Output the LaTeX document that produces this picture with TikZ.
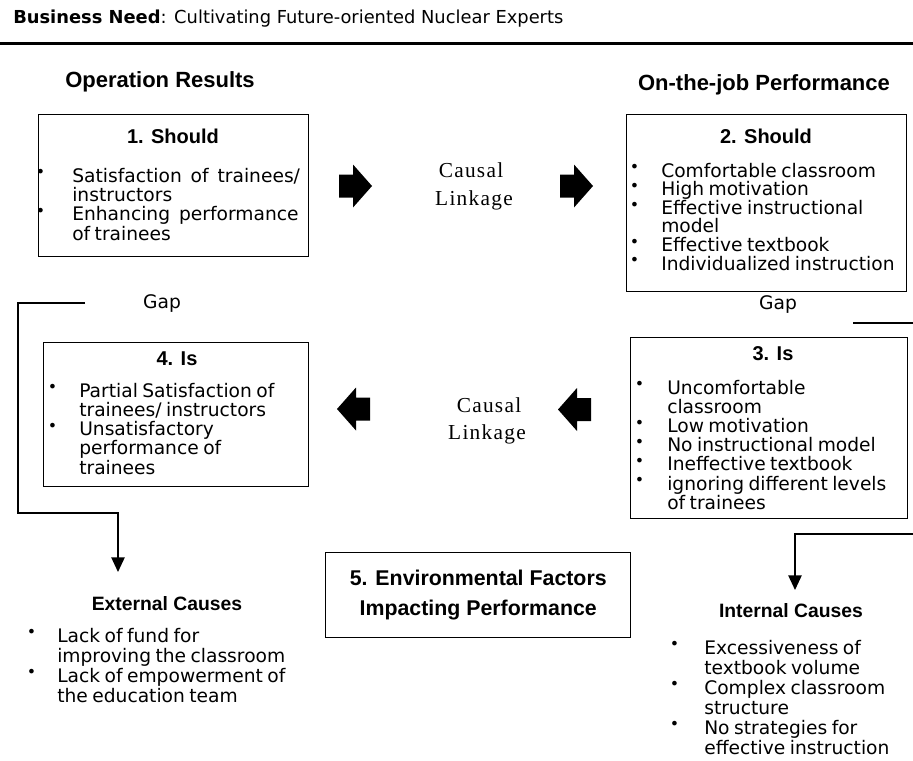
\documentclass[tikz,border=0pt]{standalone}
\usepackage{fontspec}
\setmainfont{DejaVu Sans}
\newfontfamily\headfont{Liberation Sans}
\newfontfamily\linkfont{Liberation Serif}[LetterSpace=6]
\usetikzlibrary{arrows.meta}

% bullet lists with a hanging indent
\newlength\bulletind
\newcommand\dotb{\raisebox{0.22em}{\scalebox{0.85}{\char"2022}}}
\newcommand\listsetup[2]{\fontsize{14pt}{#1}\selectfont\setlength\parskip{0pt}\setlength\bulletind{#2}}
\newcommand\bitem[1]{\hangindent=\bulletind\hangafter=1\noindent\makebox[\bulletind][l]{\kern-1pt\dotb}#1\par}

\tikzset{
  box/.style={draw, line width=1.1pt, inner sep=0pt, anchor=north west},
  head/.style={anchor=base, inner sep=0pt, font=\headfont\bfseries\fontsize{16.5}{18}\selectfont},
  boxtitle/.style={anchor=base, inner sep=0pt, font=\headfont\bfseries\fontsize{15}{17}\selectfont},
  causehead/.style={anchor=base, inner sep=0pt, font=\headfont\bfseries\fontsize{14.5}{17}\selectfont},
  link/.style={anchor=base, inner sep=0pt, font=\linkfont\fontsize{16}{18}\selectfont},
  gaplabel/.style={anchor=base, inner sep=0pt, font=\fontsize{14}{16}\selectfont},
  bullets/.style={anchor=base west, inner sep=0pt, text width=240pt},
  conn/.style={line width=1.1pt},
  tip/.style={-{Triangle[length=11pt,width=10pt]}},
  blockarrow/.pic={\fill[black] (-16.5,-11.5) -- (-2.5,-11.5) -- (-2.5,-21.5) -- (16.5,0)
     -- (-2.5,21.5) -- (-2.5,11.5) -- (-16.5,11.5) -- cycle;}
}

\begin{document}
\begin{tikzpicture}[x=0.75pt,y=-0.75pt]
\useasboundingbox (0,0) rectangle (913,760);

% heading and rule
\node[anchor=base west, inner sep=0pt, font=\fontsize{13.4}{15}\selectfont] (need) at (13,23)
  {\textbf{Business Need}: Cultivating Future-oriented Nuclear Experts};
\coordinate (rl) at (0,43);
\coordinate (rr) at (913,43);
\draw[line width=2.25pt] (rl) -- (rr);

\node[head] (opres) at (160,87) {Operation Results};
\node[head] (onjob) at (764,90) {On-the-job Performance};

% 1. Should
\node[box, minimum width=202.5pt, minimum height=106.5pt] (b1) at (38,114) {};
\node[boxtitle] (b1t) at (173,143) {1. Should};
\node[bullets] (b1l) at (37,182) {\listsetup{14.5pt}{26.25pt}%
  \bitem{Satisfaction\ \ of\ \ trainees/\newline instructors}%
  \bitem{Enhancing\ \ performance\newline of trainees}};

% 2. Should
\node[box, minimum width=210pt, minimum height=132.75pt] (b2) at (626,114) {};
\node[boxtitle] (b2t) at (766,143) {2. Should};
\node[bullets] (b2l) at (631,177) {\listsetup{13.95pt}{22.5pt}%
  \bitem{Comfortable classroom}%
  \bitem{High motivation}%
  \bitem{Effective instructional\newline model}%
  \bitem{Effective textbook}%
  \bitem{Individualized instruction}};

% 3. Is
\node[box, minimum width=207.75pt, minimum height=135.75pt] (b3) at (630,337) {};
\node[boxtitle] (b3t) at (773,360) {3. Is};
\node[bullets] (b3l) at (636,394) {\listsetup{14.4pt}{23.25pt}%
  \bitem{Uncomfortable\newline classroom}%
  \bitem{Low motivation}%
  \bitem{No instructional model}%
  \bitem{Ineffective textbook}%
  \bitem{ignoring different levels\newline of trainees}};

% 4. Is
\node[box, minimum width=198.75pt, minimum height=108pt] (b4) at (43,342) {};
\node[boxtitle] (b4t) at (177,365) {4. Is};
\node[bullets] (b4l) at (49,397) {\listsetup{14.45pt}{22.5pt}%
  \bitem{Partial Satisfaction of\newline trainees/ instructors}%
  \bitem{Unsatisfactory\newline performance of\newline trainees}};

% causal linkages
\pic at (355.5,186) {blockarrow};
\pic at (576.5,186) {blockarrow};
\pic[rotate=180] at (353.5,409) {blockarrow};
\pic[rotate=180] at (574.5,409.5) {blockarrow};
\node[link] (c1) at (471,177) {Causal};
\node[link] (l1) at (474,205) {Linkage};
\node[link] (c2) at (489,412) {Causal};
\node[link] (l2) at (487,439) {Linkage};

% gaps
\node[gaplabel] (gapl) at (162,308) {Gap};
\node[gaplabel] (gapr) at (778,309) {Gap};

% 5. Environmental factors
\node[box, minimum width=228.75pt, minimum height=63.75pt, align=center,
  font=\headfont\bfseries\fontsize{16}{22.5}\selectfont] (b5) at (325,552)
  {5. Environmental Factors\\Impacting Performance};

% causes
\node[causehead] (ext) at (167,610) {External Causes};
\node[bullets] (extl) at (28,642) {\listsetup{15pt}{21.75pt}%
  \bitem{Lack of fund for\newline improving the classroom}%
  \bitem{Lack of empowerment of\newline the education team}};

\node[causehead] (int) at (791,617) {Internal Causes};
\node[bullets] (intl) at (671,654) {\listsetup{15pt}{24.75pt}%
  \bitem{Excessiveness of\newline textbook volume}%
  \bitem{Complex classroom\newline structure}%
  \bitem{No strategies for\newline effective instruction}};

% gap connectors
\coordinate (gl) at (85,303);
\coordinate (gltip) at (118,572);
\draw[conn, tip] (gl) -| (18,513) -| (gltip);

\coordinate (gr) at (853,323);
\coordinate (grtip) at (795,590);
\draw[conn, tip] (gr) -- (917,323) |- (795,534) -- (grtip);
\end{tikzpicture}
\end{document}
